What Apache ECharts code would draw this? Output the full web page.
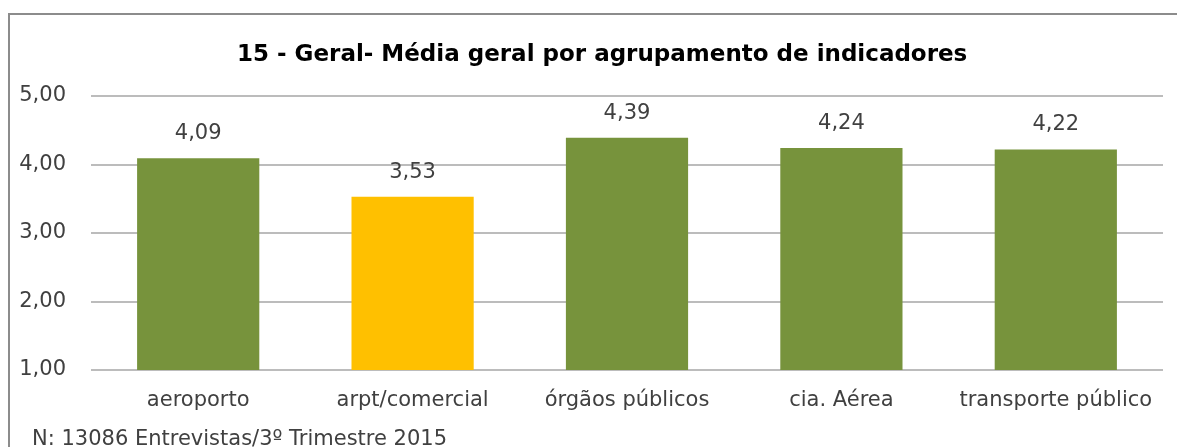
<!DOCTYPE html>
<html><head><meta charset="utf-8">
<script src="https://cdn.jsdelivr.net/npm/echarts@6/dist/echarts.min.js"></script>
<style>html,body{margin:0;padding:0;background:#fff}#c{width:1177px;height:447px}</style>
</head><body><div id="c"></div>
<script>
const categories = ['aeroporto', 'arpt/comercial', 'órgãos públicos', 'cia. Aérea', 'transporte público'];
const values = [4.09, 3.53, 4.39, 4.24, 4.22];
const barColors = ['#77933C', '#FFC000', '#77933C', '#77933C', '#77933C'];
const yTicks = [1, 2, 3, 4, 5];
const titleText = '15 - Geral- Média geral por agrupamento de indicadores';
const footText = 'N: 13086 Entrevistas/3º Trimestre 2015';

const font = '"DejaVu Sans", sans-serif';
const chart = echarts.init(document.getElementById('c'), null, {renderer: 'canvas'});
chart.setOption({
  animation: false,
  title: {
    text: titleText, left: 232, top: 39,
    textStyle: {fontFamily: font, fontWeight: 'bold', fontSize: 23, color: '#000'}
  },
  graphic: [
    {type: 'rect', shape: {x: 9, y: 14, width: 1200, height: 500}, style: {fill: 'none', stroke: '#8c8c8c', lineWidth: 2}, z: 100},
    {type: 'text', left: 32, top: 429, style: {text: footText, font: '21px ' + font, fill: '#404040'}}
  ],
  grid: {left: 91, right: 14, top: 96, bottom: 77, containLabel: false},
  xAxis: {
    type: 'category', data: categories,
    axisLine: {show: false}, axisTick: {show: false},
    axisLabel: {fontFamily: font, fontSize: 21, color: '#404040', margin: 20, interval: 0}
  },
  yAxis: {
    type: 'value', min: yTicks[0], max: yTicks[yTicks.length - 1], interval: 1,
    axisLine: {show: false}, axisTick: {show: false},
    axisLabel: {fontFamily: font, fontSize: 21, color: '#404040', margin: 25,
      formatter: v => v.toFixed(2).replace('.', ',')},
    splitLine: {lineStyle: {color: '#a6a6a6', width: 1.5}}
  },
  series: [{
    type: 'bar', barWidth: '57%',
    data: values.map((v, i) => ({value: v, itemStyle: {color: barColors[i]}})),
    label: {show: true, position: 'top', distance: 14, fontFamily: font, fontSize: 21, color: '#404040',
      formatter: p => p.value.toFixed(2).replace('.', ',')}
  }]
});
</script></body></html>
